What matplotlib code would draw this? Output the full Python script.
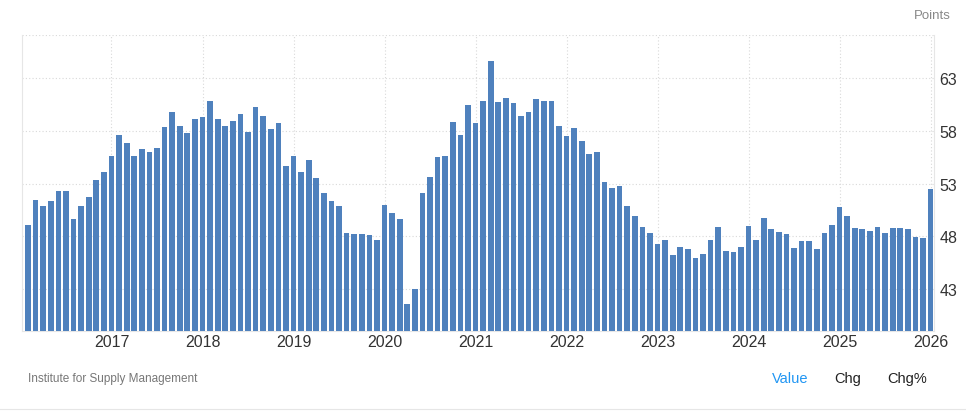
import matplotlib.pyplot as plt

plt.rcParams['font.family'] = ['Liberation Sans', 'DejaVu Sans']

# ISM manufacturing PMI, monthly Feb 2016 .. Jan 2026
pmi_2016 = [49.1, 51.4, 50.9, 51.3, 52.3, 52.3, 49.6, 50.9, 51.7, 53.3, 54.1]  # Feb-Dec
pmi_2017 = [55.6, 57.6, 56.8, 55.6, 56.3, 56.0, 56.4, 58.4, 59.8, 58.5, 57.8, 59.1]
pmi_2018 = [59.3, 60.8, 59.1, 58.5, 58.9, 59.6, 57.9, 60.3, 59.4, 58.2, 58.7, 54.7]
pmi_2019 = [55.6, 54.1, 55.2, 53.5, 52.1, 51.3, 50.9, 48.3, 48.2, 48.2, 48.1, 47.6]
pmi_2020 = [51.0, 50.2, 49.6, 41.6, 43.0, 52.1, 53.6, 55.5, 55.6, 58.8, 57.6, 60.5]
pmi_2021 = [58.7, 60.8, 64.6, 60.7, 61.1, 60.6, 59.4, 59.8, 61.0, 60.8, 60.8, 58.5]
pmi_2022 = [57.5, 58.3, 57.0, 55.8, 56.0, 53.1, 52.6, 52.8, 50.9, 49.9, 48.9, 48.3]
pmi_2023 = [47.3, 47.6, 46.2, 47.0, 46.8, 45.9, 46.3, 47.6, 48.9, 46.6, 46.5, 47.0]
pmi_2024 = [49.0, 47.6, 49.7, 48.7, 48.4, 48.2, 46.9, 47.5, 47.5, 46.8, 48.3, 49.1]
pmi_2025 = [50.8, 49.9, 48.8, 48.7, 48.5, 48.9, 48.3, 48.8, 48.8, 48.7, 47.9, 47.8]
pmi_2026 = [52.5]  # Jan

values = (pmi_2016 + pmi_2017 + pmi_2018 + pmi_2019 + pmi_2020 + pmi_2021
          + pmi_2022 + pmi_2023 + pmi_2024 + pmi_2025 + pmi_2026)
years = ['2017', '2018', '2019', '2020', '2021', '2022', '2023', '2024', '2025', '2026']
y_ticks = [43, 48, 53, 58, 63]

bar_color = '#4f81bd'
grid_color = '#d9d9d9'

fig = plt.figure(figsize=(9.66, 4.14), dpi=100)
ax = fig.add_axes([22 / 966, 1 - 332 / 414, (934 - 22) / 966, (332 - 36) / 414])

x = list(range(len(values)))
ax.bar(x, values, width=0.75, color=bar_color, zorder=3)

ax.set_ylim(39.0, 67.1)
ax.set_xlim(-0.8, len(values) - 0.55)

# january of each year sits at index 11, 23, ...
jan_idx = [11 + 12 * i for i in range(len(years))]
ax.set_xticks(jan_idx)
ax.set_xticklabels(years, fontsize=11.5, color='#333333')
ax.set_yticks(y_ticks)
ax.set_yticklabels([str(v) for v in y_ticks], fontsize=11.5, color='#333333')
ax.yaxis.tick_right()
ax.tick_params(axis='both', length=0)
ax.tick_params(axis='x', pad=2)
ax.tick_params(axis='y', pad=4)

ax.grid(True, color=grid_color, linestyle=(0, (1, 2)), linewidth=0.8, zorder=0)
ax.axhline(67.1, color=grid_color, linestyle=(0, (1, 2)), linewidth=0.8, zorder=0)

ax.spines['top'].set_visible(False)
ax.spines['left'].set_color('#e6e6e6')
ax.spines['right'].set_color('#e6e6e6')
ax.spines['bottom'].set_color('#e6e6e6')

fig.text(951 / 966, 1 - 16 / 414, 'Points', ha='right', va='center', fontsize=9.5, color='#888888')
fig.text(28 / 966, 1 - 379 / 414, 'Institute for Supply Management', ha='left', va='center',
         fontsize=8.5, color='#777777')
fig.text(790 / 966, 1 - 379 / 414, 'Value', ha='center', va='center', fontsize=10.5, color='#2196f3')
fig.text(848 / 966, 1 - 379 / 414, 'Chg', ha='center', va='center', fontsize=10.5, color='#222222')
fig.text(907 / 966, 1 - 379 / 414, 'Chg%', ha='center', va='center', fontsize=10.5, color='#222222')
fig.add_artist(plt.Line2D([0, 1], [1 - 410 / 414] * 2, color='#e6e6e6', linewidth=0.8))

fig.savefig('out.png', dpi=100)
